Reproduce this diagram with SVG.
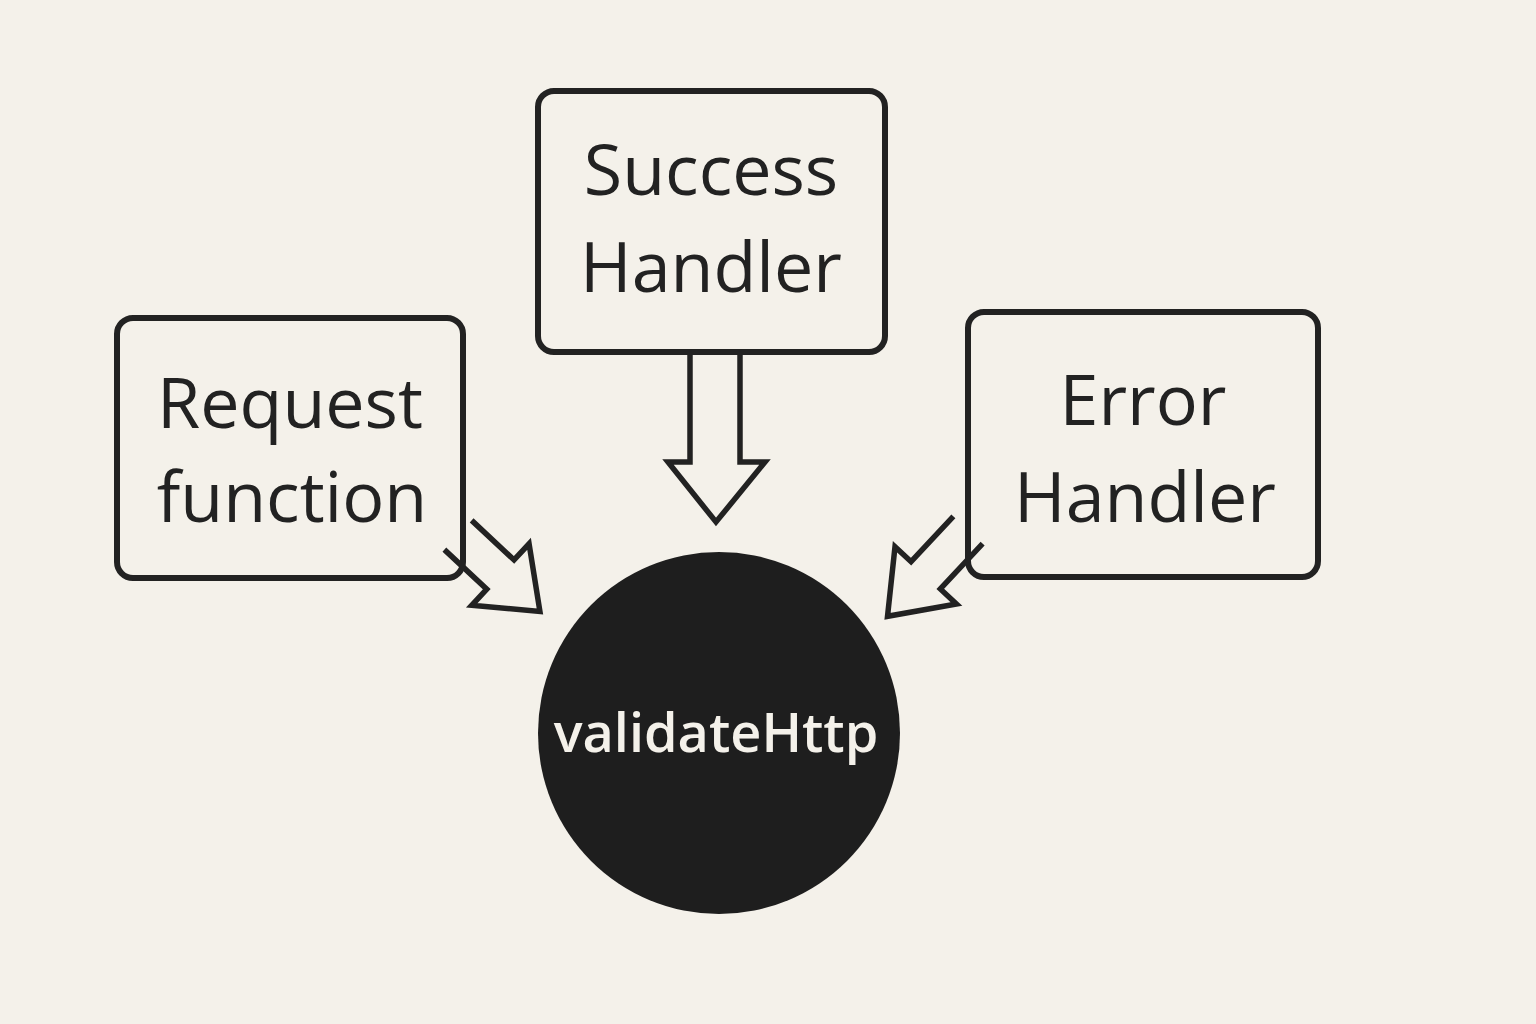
<svg xmlns="http://www.w3.org/2000/svg" width="1536" height="1024" viewBox="0 0 1536 1024">
<style>
.box{fill:none;stroke:#222;stroke-width:6;stroke-linejoin:round}
.arr{fill:none;stroke:#222;stroke-width:5.5;stroke-linejoin:miter}
.t{font-family:"Open Sans","Liberation Sans",sans-serif;font-size:70px;font-weight:500;fill:#222;text-anchor:middle}
.w{font-family:"Open Sans","Liberation Sans",sans-serif;font-size:54px;font-weight:600;fill:#f4f1ea;text-anchor:middle}
</style>
<rect width="1536" height="1024" fill="#f4f1ea"/>
<g id="connectors">
<path class="arr" d="M690,355 L690,462 L668,462 L716,522 L765,462 L740,462 L740,355"/>
<path class="arr" transform="translate(458,535) rotate(43)" d="M0,-20 L58,-20 L58,-42 L112,0 L58,42 L58,20 L0,20"/>
<path class="arr" transform="translate(968,530) rotate(133)" d="M0,-20 L62,-20 L62,-42 L118,0 L62,42 L62,20 L0,20"/>
</g>
<g id="success"><rect class="box" x="538" y="91" width="347" height="261" rx="16"/>
<text class="t" x="711" y="195">Success</text><text class="t" x="711" y="292">Handler</text></g>
<g id="request"><rect class="box" x="117" y="318" width="346" height="260" rx="16"/>
<text class="t" x="290" y="428">Request</text><text class="t" x="292" y="522">function</text></g>
<g id="error"><rect class="box" x="968" y="312" width="350" height="265" rx="16"/>
<text class="t" x="1143" y="425">Error</text><text class="t" x="1145" y="522">Handler</text></g>
<g id="validate"><circle cx="719" cy="733" r="181" fill="#1e1e1e"/>
<text class="w" x="716" y="752">validateHttp</text></g>
</svg>
